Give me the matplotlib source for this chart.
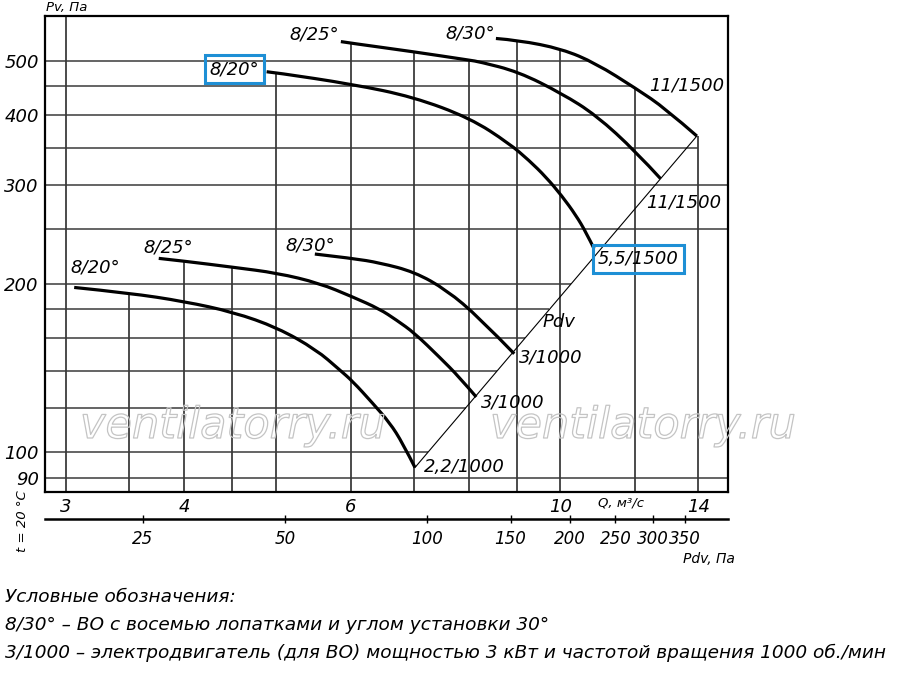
import numpy as np
import matplotlib
matplotlib.use("Agg")
import matplotlib.pyplot as plt
import matplotlib.patheffects as pe
from matplotlib.path import Path
from matplotlib.patches import PathPatch
from matplotlib.ticker import NullLocator

plt.rcParams['font.family'] = ['DejaVu Sans']
plt.rcParams['font.style'] = 'italic'

# --- fan curves, Q (m3/s) against Pv (Pa) ---
# 1500 rpm
q_8_20_1500 = [4.89, 5.01, 6.03, 6.99, 8.03, 8.83, 9.27, 9.66, 10.04, 10.39, 10.65, 10.86]
pv_8_20_1500 = [478, 476, 454, 431, 395, 356, 332, 310, 287, 265, 247, 231]
q_8_25_1500 = [5.86, 6.03, 6.99, 8.03, 8.21, 9.03, 10.04, 10.91, 12.03, 12.77]
pv_8_25_1500 = [541, 537, 519, 501, 498, 478, 437, 400, 344, 308]
q_8_30_1500 = [8.55, 9.03, 10.04, 10.90, 12.03, 12.92, 13.95]
pv_8_30_1500 = [548, 544, 525, 495, 446, 411, 367]
# 1000 rpm
q_8_20_1000 = [3.06, 3.50, 4.00, 4.51, 5.02, 5.52, 5.84, 6.03, 6.33, 6.60, 6.81, 7.02]
pv_8_20_1000 = [197, 192.5, 186, 178, 167, 152.5, 140.5, 134, 122.5, 113, 104, 94]
q_8_25_1000 = [3.76, 4.00, 4.51, 5.02, 5.56, 6.03, 6.44, 6.71, 7.01, 7.45, 7.82, 8.15]
pv_8_25_1000 = [222, 219.5, 214, 209, 200.5, 189.5, 180.3, 172.3, 163.4, 148, 136.3, 125.6]
q_8_30_1000 = [5.50, 6.03, 6.44, 7.01, 7.58, 8.21, 8.94]
pv_8_30_1000 = [226, 222, 218, 210, 195, 174, 150]

blade_labels = ['8/20°', '8/25°', '8/30°', '8/20°', '8/25°', '8/30°']
motor_labels = ['5,5/1500', '11/1500', '11/1500', '2,2/1000', '3/1000', '3/1000']

# Pdv line (curve ends) and the dynamic pressure scale Pdv = k * Q^2
pdv_q = [7.02, 13.95]
pdv_pv = [94, 367]
pdv_k = 1.91

q_ticks = [3, 4, 6, 10, 14]
pv_ticks = [90, 100, 200, 300, 400, 500]
pdv_ticks = [25, 50, 100, 150, 200, 250, 300, 350]
q_grid = [3, 3.5, 4, 4.5, 5, 6, 7, 8, 9, 10, 12, 14]
pv_grid = [90, 100, 120, 140, 160, 180, 200, 250, 300, 350, 400, 450, 500]

legend_lines = [
    "Условные обозначения:",
    "8/30° – ВО с восемью лопатками и углом установки 30°",
    "3/1000 – электродвигатель (для ВО) мощностью 3 кВт и частотой вращения 1000 об./мин",
]

curves = [
    (q_8_20_1500, pv_8_20_1500), (q_8_25_1500, pv_8_25_1500), (q_8_30_1500, pv_8_30_1500),
    (q_8_20_1000, pv_8_20_1000), (q_8_25_1000, pv_8_25_1000), (q_8_30_1000, pv_8_30_1000),
]

# label offsets from curve start / end, in pixels
start_off = [(-32, 2.5), (-26.5, 7), (-26, 5), (21, 20), (9, 10.5), (-5, 9)]
end_off = [(44, -10), (23, -23.5), (-10, 51), (49, 1), (36.5, -5.5), (36.5, -3.5)]
boxed = 0  # the 8/20° 1500 rpm curve is highlighted
box_col = '#1e8fd5'

xlim = (2.85, 15.05)
ylim = (85, 601)


def pv_on(qs, pvs, q):
    return 10 ** np.interp(np.log10(q), np.log10(qs), np.log10(pvs))


def q_on(qs, pvs, pv):
    return 10 ** np.interp(np.log10(pv), np.log10(pvs[::-1]), np.log10(qs[::-1]))


def smooth_path(qs, ps):
    # quadratic bezier through the read points (midpoints taken in log space)
    lq, lp = np.log10(qs), np.log10(ps)
    verts = [(qs[0], ps[0])]
    codes = [Path.MOVETO]
    n = len(qs)
    for i in range(1, n - 1):
        verts.append((qs[i], ps[i]))
        if i < n - 2:
            verts.append((10 ** ((lq[i] + lq[i + 1]) / 2), 10 ** ((lp[i] + lp[i + 1]) / 2)))
        else:
            verts.append((qs[-1], ps[-1]))
        codes += [Path.CURVE3, Path.CURVE3]
    return Path(verts, codes)


fig = plt.figure(figsize=(9, 6.82), dpi=100)
ax = fig.add_axes([45 / 900, 1 - 492 / 682, 683 / 900, 476 / 682])
ax.set_xscale('log')
ax.set_yscale('log')
ax.set_xlim(*xlim)
ax.set_ylim(*ylim)

# --- grid: vertical lines stop at the highest curve, horizontal ones at the Pdv line ---
tops = []
for q in q_grid:
    hits = [pv_on(qs, ps, q) for qs, ps in curves if qs[0] * 0.99 <= q <= qs[-1] * 1.01]
    tops.append(max(hits) if hits else ylim[1])
ax.vlines(q_grid, ylim[0], tops, colors='#1a1a1a', lw=1.1, zorder=1)

ends = []
for pv in pv_grid:
    if pv >= 400:
        ends.append(q_on(q_8_30_1500, pv_8_30_1500, pv))
    elif pv >= 350:
        ends.append(q_grid[-1])
    elif pv in (250, 300) or pv < pdv_pv[0]:
        ends.append(xlim[1])
    else:
        ends.append(10 ** np.interp(np.log10(pv), np.log10(pdv_pv), np.log10(pdv_q)))
ax.hlines(pv_grid, xlim[0], ends, colors='#3a3a3a', lw=1.1, zorder=1)

# --- curves ---
for i, (qs, ps) in enumerate(curves):
    ax.add_patch(PathPatch(smooth_path(qs, ps), fc='none', ec='black', lw=2.3,
                           capstyle='butt', zorder=3))
    bb = None
    if i == boxed:
        bb = dict(boxstyle='square,pad=0.28', fc='none', ec=box_col, lw=2.2)
    ax.annotate(blade_labels[i], xy=(qs[0], ps[0]), xytext=start_off[i],
                textcoords='offset pixels', ha='center', va='center',
                fontsize=13, bbox=bb, zorder=4)
    ax.annotate(motor_labels[i], xy=(qs[-1], ps[-1]), xytext=end_off[i],
                textcoords='offset pixels', ha='center', va='center',
                fontsize=13, bbox=bb, zorder=4)

ax.plot(pdv_q, pdv_pv, color='black', lw=0.8, zorder=2)
mid = (np.sqrt(pdv_q[0] * pdv_q[1]), np.sqrt(pdv_pv[0] * pdv_pv[1]))
ax.annotate('Pdv', xy=mid, xytext=(3, -20), textcoords='offset pixels',
            ha='center', va='center', fontsize=13)

# --- axes ---
ax.set_xticks(q_ticks, labels=[str(v) for v in q_ticks])
ax.set_yticks(pv_ticks, labels=[str(v) for v in pv_ticks])
ax.xaxis.set_minor_locator(NullLocator())
ax.yaxis.set_minor_locator(NullLocator())
ax.tick_params(length=0, labelsize=13)
ax.tick_params(axis='x', pad=4)
ax.tick_params(axis='y', pad=4.5)
for s in ax.spines.values():
    s.set_linewidth(1.6)

ax.annotate('Q, м³/с', xy=(11.6, 0), xycoords=('data', 'axes fraction'),
            xytext=(0, -11), textcoords='offset pixels', ha='center', va='center',
            fontsize=9.5)
ax.annotate('Pv, Па', xy=(0, 1), xycoords='axes fraction', xytext=(1, 9),
            textcoords='offset pixels', ha='left', va='center', fontsize=9.5)

sec = ax.secondary_xaxis(-27 / 476, functions=(lambda q: pdv_k * np.asarray(q) ** 2,
                                               lambda p: np.sqrt(np.maximum(p, 1e-9) / pdv_k)))
sec.set_xticks(pdv_ticks, labels=[str(v) for v in pdv_ticks])
sec.xaxis.set_minor_locator(NullLocator())
sec.tick_params(direction='inout', length=6, width=1, labelsize=12, pad=5)
for s in sec.spines.values():
    s.set_linewidth(1.8)

fig.text(735 / 900, 1 - 559 / 682, 'Pdv, Па', ha='right', va='center', fontsize=10)
fig.text(22 / 900, 1 - 521 / 682, 't = 20 °C', rotation=90, ha='center', va='center',
         fontsize=9.5)

# watermark
for x0 in (80, 490):
    fig.text(x0 / 900, 1 - 438 / 682, 'ventilatorry.ru', fontsize=31, color='none',
             ha='left', va='baseline', zorder=2,
             path_effects=[pe.Stroke(linewidth=0.9, foreground='#c4c4c4')])

for k, line in enumerate(legend_lines):
    fig.text(5 / 900, 1 - (597 + 28 * k) / 682, line, ha='left', va='center', fontsize=13.3)

fig.savefig('out.png', dpi=100)
